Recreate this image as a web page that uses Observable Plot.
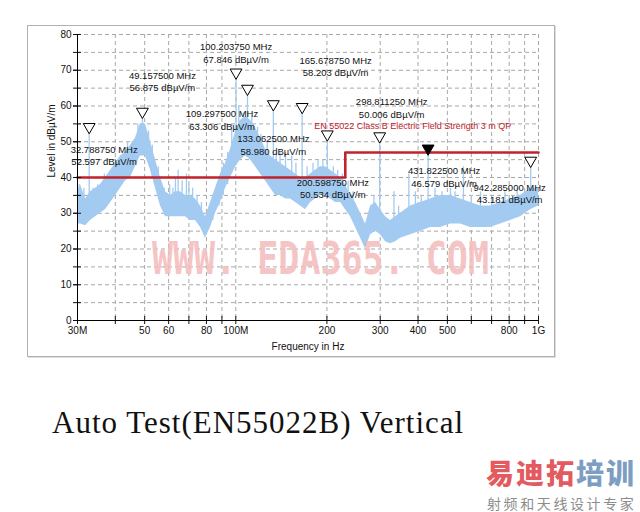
<!DOCTYPE html>
<html>
<head>
<meta charset="utf-8">
<script src="https://cdn.jsdelivr.net/npm/d3@7"></script>
<script src="https://cdn.jsdelivr.net/npm/@observablehq/plot@0.6"></script>
<style>
  html, body { margin: 0; padding: 0; background: #fff; }
  body { width: 640px; height: 512px; position: relative; overflow: hidden; font-family: "Liberation Sans", Arial, sans-serif; }
  #frame { position: absolute; left: 27px; top: 25px; width: 526px; height: 330px; border: 1px solid #b0b0b0; box-shadow: 1px 1px 0 #dcdcdc; }
  #chart { position: absolute; left: 0; top: 0; }
  #wm { position: absolute; left: 152px; top: 237px; font-family: "DejaVu Sans Mono", monospace; font-weight: bold; font-size: 44px; line-height: 44px; color: #f4bfbf; white-space: pre; transform: scaleX(0.795); transform-origin: 0 0; opacity: 0.9; pointer-events: none; }
  #caption { position: absolute; left: 52px; top: 405px; font-family: "Liberation Serif", serif; font-size: 31px; line-height: 36px; letter-spacing: 1px; color: #111; white-space: pre; }
  #logo { position: absolute; left: 486px; top: 457px; font-family: "Noto Sans CJK SC", sans-serif; font-weight: 900; font-size: 28px; line-height: 30px; letter-spacing: 2px; white-space: pre; }
  #logo .r { color: #e35b5f; }
  #logo .b { color: #7d9dc3; }
  #logosub { position: absolute; left: 487px; top: 494px; font-family: "Noto Sans CJK SC", sans-serif; font-size: 14px; line-height: 18px; letter-spacing: 2.6px; color: #8c8c8c; white-space: pre; }
</style>
</head>
<body>
<div id="frame"></div>
<div id="chart"></div>
<div id="wm">WWW. EDA365. COM</div>
<div id="caption">Auto Test(EN55022B) Vertical</div>
<div id="logo"><span class="r">易迪拓</span><span class="b">培训</span></div>
<div id="logosub">射频和天线设计专家</div>
<script>
// ---- data ----
// noise floor band of the measured trace: frequency (MHz), low and high level (dBµV/m)
const bandFreq = [30, 30.7, 31.9, 33.1, 34.4, 35.7, 37.1, 38.6, 40.1, 41.6, 43.2, 44.9, 46.6, 48.4, 50.3, 52.3, 54.3, 56.4, 58.6, 60.9, 63.2, 65.7, 68.2, 70.9, 73.6, 76.5, 79.4, 82.5, 85.7, 89.0, 92.5, 96.1, 100, 103.7, 107.7, 111.8, 116.2, 120.7, 125.4, 130.2, 135.3, 140.5, 146, 151.6, 157.5, 163.6, 170, 176.6, 183.4, 190.6, 197.9, 205.6, 213.6, 221.9, 230.5, 239.4, 248.7, 258.4, 268.4, 278.8, 289.6, 300.7, 312.4, 324.5, 337, 350, 377.8, 407.7, 439.9, 474.7, 512, 552.6, 596.3, 643.5, 694.3, 749, 808, 872, 941, 1000];
const bandLo = [27, 27, 26.5, 28, 29, 30, 31, 33, 35, 37, 39, 40, 43, 46, 46, 42, 37, 32, 29, 29, 29, 29, 29, 28, 28, 26, 23, 26, 30, 33, 37, 40, 43, 45, 46, 45, 43, 41, 39, 37, 35, 35, 34, 34, 33, 32, 31, 33, 34, 35, 35, 34, 33, 33, 31, 29, 26, 23, 20, 24, 25, 24, 22, 21.5, 22, 23, 24, 25, 26, 26, 27, 27, 26, 26, 26, 27, 28, 29, 31, 32];
const bandHi = [36, 38, 34, 36, 37, 38, 40, 42, 44, 46, 47, 49, 51, 55, 55, 50, 45, 40, 36, 35, 36, 36, 35, 35, 34, 32, 29, 33, 37, 41, 44, 48, 53, 56, 57, 56, 54, 51, 48, 46, 45, 44, 43, 42, 41, 40, 40, 41, 42, 43, 43, 42, 41, 40, 38, 35, 33, 30, 27, 32, 33, 31, 29, 28, 29, 30, 32, 33, 34, 35, 35, 34, 33, 32, 32, 33, 34, 35, 37, 37];
// narrow spikes sticking out of the noise: frequency, base level, top level
const spikeFreq  = [30.4, 31.0, 31.5, 32.78875, 33.8, 35.0, 36.8, 37.9, 39.5, 41, 43.9, 45.5, 47.5, 49.1575, 51.5, 53, 55.5, 58, 60.5, 62, 63.2, 64.5, 66.5, 68.7, 70, 72, 74.5, 77, 84, 88, 91, 94, 97, 100.20375, 102.3, 106, 109.2975, 113, 118, 121, 127, 133.0625, 136, 140, 146, 153, 158, 165.67875, 172, 180, 187, 194, 200.59875, 210, 217, 225, 235, 244, 286, 298.81125, 333, 345, 373, 392, 410, 431.8225, 455, 480, 512, 530, 565, 600, 643, 700, 775, 850, 942.285];
const spikeBase  = [29, 27, 30, 30, 30, 31, 32, 33, 35, 37, 40, 42, 46, 47, 45, 40, 35, 30, 31, 30, 31, 31, 31, 30, 29, 29, 28, 26, 28, 32, 35, 38, 43, 45, 46, 47, 47, 46, 44, 42, 40, 38, 37, 36, 35, 35, 34, 33, 32, 34, 35, 35, 36, 34, 34, 33, 30, 28, 25, 25, 23, 23, 25, 25, 26, 27, 27, 27, 28, 28, 28, 27, 27, 27, 28, 30, 32];
const spikeLevel = [38, 35, 37, 52.597, 37, 38, 41, 40, 44, 45, 50, 50, 55, 56.875, 53, 49, 43, 37, 38, 37, 40, 42, 39, 41, 38, 37, 35, 33, 35, 40, 44, 47, 55, 67.846, 60, 58, 63.306, 57, 54, 52, 50, 58.98, 47, 47, 47, 46, 44, 58.203, 43, 44, 45, 45, 50.534, 43, 42, 41, 39, 36, 35, 50.006, 36, 32, 41, 36, 35, 46.579, 37, 36, 37, 36, 43, 35, 36, 34, 36, 37, 43.181];
// peak markers
const markerFreq  = [32.78875, 49.1575, 100.20375, 109.2975, 133.0625, 165.67875, 200.59875, 298.81125, 431.8225, 942.285];
const markerLevel = [52.597, 56.875, 67.846, 63.306, 58.980, 58.203, 50.534, 50.006, 46.579, 43.181];
const selectedMarker = 431.8225;
// limit line EN 55022 Class B, 3 m, QP
const limitFreq  = [30, 230, 1000];
const limitLevel = [40, 47, 47];
const limitName = "EN 55022 Class B Electric Field Strength 3 m QP";
// axes
const xTicks = [30, 40, 50, 60, 70, 80, 90, 100, 200, 300, 400, 500, 600, 700, 800, 900, 1000];
const xTickValues = [30, 50, 60, 80, 100, 200, 300, 400, 500, 800, 1000];
const xTickLabels = ["30M", "50", "60", "80", "100M", "200", "300", "400", "500", "800", "1G"];
const yTicks = [0, 10, 20, 30, 40, 50, 60, 70, 80];
const yMinor = [0, 5, 10, 15, 20, 25, 30, 35, 40, 45, 50, 55, 60, 65, 70, 75, 80];
const xTitle = "Frequency in Hz";
const yTitle = "Level in dBµV/m";

// ---- layout (pixel offsets of the marker captions from their peaks) ----
const labelOffsets = [[15, 22.5], [20, -36], [0, -25.5], [-25.5, 25.5], [0, 35], [33.5, -46.5], [5.5, 48], [12, -34], [16, 22.5], [-21, 27]];

const band = bandFreq.map((f, i) => ({f, lo: bandLo[i], hi: bandHi[i]}));
const spikes = spikeFreq.map((f, i) => ({f, base: spikeBase[i], top: spikeLevel[i]}));
const markers = markerFreq.map((f, i) => ({f, l: markerLevel[i], sel: f === selectedMarker}));
const limit = limitFreq.map((f, i) => ({f, l: limitLevel[i]}));
const xLabelled = xTickValues.map((v, i) => ({v, t: xTickLabels[i]}));

const trace = "#a3cbf1";
const gridStyle = {stroke: "#a8a8a8", strokeOpacity: 1, strokeDasharray: "4,3", strokeWidth: 1};

const labelMarks = markers.map((m, i) => Plot.text([m], {
  x: "f", y: "l",
  text: d => `${d.f.toFixed(6)} MHz\n${d.l.toFixed(3)} dBµV/m`,
  dx: labelOffsets[i][0], dy: labelOffsets[i][1],
  lineHeight: 1.32, fontSize: 9.5, fill: "#111"
}));

const chart = Plot.plot({
  width: 640, height: 360,
  marginLeft: 77, marginRight: 102, marginTop: 34, marginBottom: 40,
  style: {fontFamily: "'Liberation Sans', Arial, sans-serif", fontSize: "10px", background: "transparent", color: "#111", overflow: "visible"},
  x: {type: "log", domain: [30, 1000]},
  y: {domain: [0, 80]},
  marks: [
    Plot.gridY(yMinor.filter(v => v > 0), gridStyle),
    Plot.gridX(xTicks.filter(v => v > 30), gridStyle),
    Plot.areaY(band, {x: "f", y1: "lo", y2: "hi", fill: trace}),
    Plot.ruleX(spikes, {x: "f", y1: "base", y2: "top", stroke: trace, strokeWidth: 1.3}),
    Plot.line(limit, {x: "f", y: "l", curve: "step-after", stroke: "#c1232b", strokeWidth: 2.6}),
    Plot.text([limitName], {x: () => limitFreq[1], y: () => limitLevel[1], text: d => d, textAnchor: "start", dx: -31, dy: -26.5, fontSize: 9, fill: "#c0202a"}),
    Plot.dot(markers, {x: "f", y: "l", symbol: "triangle", rotate: 180, r: 4.4, dy: -5.5, fill: d => d.sel ? "#000" : "#fff", stroke: "#000", strokeWidth: 1}),
    ...labelMarks,
    Plot.axisY(yTicks, {anchor: "left", tickSize: 4, tickPadding: 2, label: null, fill: "#111"}),
    Plot.axisY(yMinor, {anchor: "left", tickSize: 4, fill: "none", label: null}),
    Plot.axisY(yMinor, {anchor: "left", tickSize: 4, dx: 4, fill: "none", label: null}),
    Plot.axisX(xTicks, {anchor: "bottom", tickSize: 4, fill: "none", label: null}),
    Plot.axisX(xTicks, {anchor: "bottom", tickSize: 4, dy: -4, fill: "none", label: null}),
    Plot.text(xLabelled, {x: "v", text: "t", frameAnchor: "bottom", dy: 13.5, fontSize: 10, fill: "#111"}),
    Plot.ruleX([30], {stroke: "#000"}),
    Plot.ruleY([0], {stroke: "#000"}),
    Plot.text([xTitle], {frameAnchor: "bottom", dy: 29, text: d => d, fontSize: 10, fill: "#111"}),
    Plot.text([yTitle], {frameAnchor: "left", dx: -26, rotate: -90, text: d => d, fontSize: 10, fill: "#111"})
  ]
});
document.getElementById("chart").appendChild(chart);
</script>
</body>
</html>
